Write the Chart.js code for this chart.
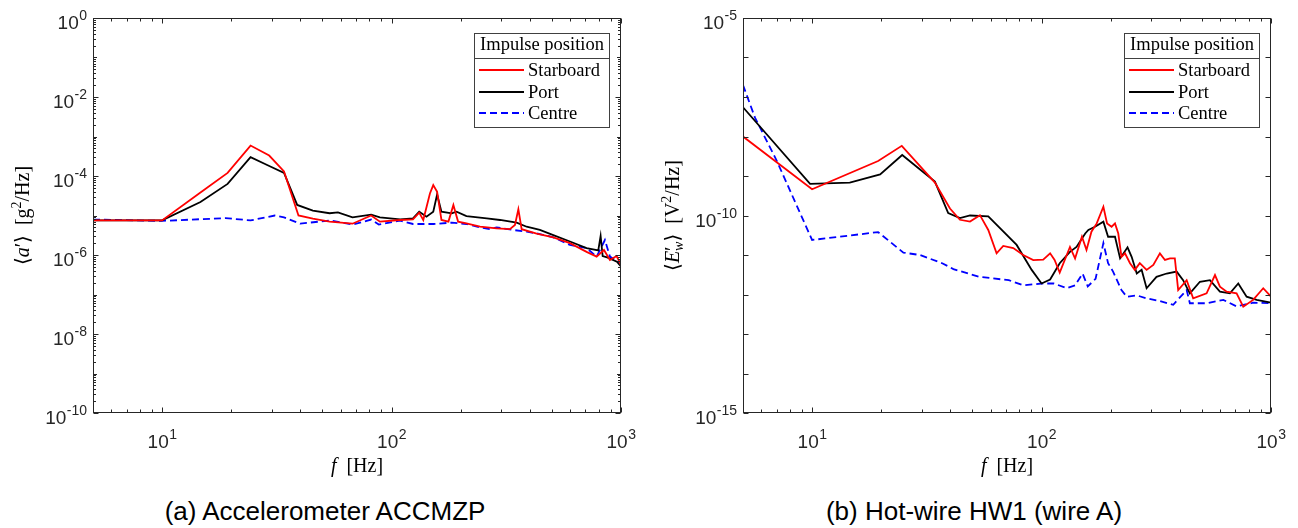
<!DOCTYPE html>
<html>
<head>
<meta charset="utf-8">
<script src="https://cdn.jsdelivr.net/npm/chart.js@4.4.0/dist/chart.umd.min.js"></script>
<style>
body { margin: 0; background: #fff; width: 1298px; height: 528px; position: relative; overflow: hidden; }
.panel { position: absolute; top: 0; }
.cap { position: absolute; top: 496px; font: 26px "Liberation Sans", Arial, sans-serif; line-height: 30px; text-align: center; color: #000; }
</style>
</head>
<body>
<div class="panel" style="left:0"><canvas id="accel" width="650" height="490"></canvas></div>
<div class="panel" style="left:650px"><canvas id="hotwire" width="648" height="490"></canvas></div>
<div class="cap" style="left:0;width:650px">(a) Accelerometer ACCMZP</div>
<div class="cap" style="left:650px;width:648px">(b) Hot-wire HW1 (wire A)</div>
<script>
// (a) accelerometer spectra
var fA_star = [5, 10, 14.7, 19.3, 24.3, 29.3, 34, 39.3, 45.4, 53.7, 67.6, 81.5, 89, 109, 124, 132, 137.5, 147, 152, 158, 165, 177, 186, 195, 212, 243, 287, 328, 345, 357, 369, 429, 507, 599, 708, 783, 843, 895, 957, 1000];
var vA_star = [7.5e-6, 7.5e-6, 3.8e-5, 1.2e-4, 5.9e-4, 3.3e-4, 1.3e-4, 1.0e-5, 8.3e-6, 7e-6, 6.2e-6, 1.0e-5, 7e-6, 7.7e-6, 8.0e-6, 1.18e-5, 7.7e-6, 3.6e-5, 5.9e-5, 4.0e-5, 7.7e-6, 7.0e-6, 1.85e-5, 7.0e-6, 6.3e-6, 5.2e-6, 4.7e-6, 4.5e-6, 5.75e-6, 1.43e-5, 4.5e-6, 3.5e-6, 2.8e-6, 2.0e-6, 1.2e-6, 9.1e-7, 1.34e-6, 7.5e-7, 9.4e-7, 5.6e-7];
var fA_port = [5, 10, 14.7, 19.3, 24.3, 28.7, 34, 38.8, 45.4, 53.7, 58.4, 67.6, 81.5, 89, 109, 124, 132, 142, 152, 158, 165, 183, 192, 212, 260, 297, 351, 388, 443, 507, 599, 708, 796, 815, 832, 870, 960, 1000];
var vA_port = [7.5e-6, 7.5e-6, 2.2e-5, 6.3e-5, 3.0e-4, 1.9e-4, 1.2e-4, 1.85e-5, 1.33e-5, 1.14e-5, 1.2e-5, 9e-6, 1.05e-5, 9e-6, 8.0e-6, 8.5e-6, 1.25e-5, 9.3e-6, 1.25e-5, 3.4e-5, 1.25e-5, 1.13e-5, 1.25e-5, 9.7e-6, 8.5e-6, 7.7e-6, 6.6e-6, 5.2e-6, 4.3e-6, 3.2e-6, 2.2e-6, 1.5e-6, 1.3e-6, 3.0e-6, 9.4e-7, 8.7e-7, 6.8e-7, 5.1e-7];
var fA_centre = [5, 10, 18.9, 24.3, 31, 34, 40, 53.7, 68, 81.5, 88, 109, 124, 137.5, 152, 183, 212, 243, 268, 287, 339, 388, 443, 507, 599, 708, 783, 851, 895, 1000];
var vA_centre = [7.9e-6, 7.3e-6, 8.6e-6, 7.5e-6, 1.0e-5, 9e-6, 6.2e-6, 7.5e-6, 5.9e-6, 7.9e-6, 5.9e-6, 7.4e-6, 6.1e-6, 6.1e-6, 6.1e-6, 6.6e-6, 6.1e-6, 5.0e-6, 4.5e-6, 5.0e-6, 4.3e-6, 3.9e-6, 3.4e-6, 2.8e-6, 1.8e-6, 1.5e-6, 9.1e-7, 2.4e-6, 9.1e-7, 6.1e-7];

// (b) hot-wire spectra
var fB_star = [5, 10, 19.4, 24.6, 34.3, 39.9, 44.1, 48.8, 53.9, 58.6, 63.7, 68.1, 75.3, 83.2, 92, 101.7, 109, 114, 120, 133, 140, 150, 157, 165, 174, 186, 193, 202, 209, 216, 223, 231, 243, 255, 268, 287, 307, 328, 345, 363, 381, 394, 429, 458, 524, 570, 599, 641, 708, 757, 836, 925, 1000];
var vB_star = [1.0e-8, 4.6e-10, 2.4e-9, 5.8e-9, 6.8e-10, 1.5e-10, 7.8e-11, 7e-11, 1.02e-10, 4.3e-11, 1.1e-11, 1.7e-11, 1.5e-11, 1.0e-11, 7.4e-12, 7.6e-12, 1.1e-11, 7.5e-12, 3.6e-12, 1.6e-11, 8.2e-12, 2.9e-11, 1.34e-11, 3.9e-11, 6.3e-11, 1.67e-10, 6.3e-11, 5.2e-11, 6.3e-11, 3.5e-11, 9e-12, 1.1e-11, 6.2e-12, 4.2e-12, 6.2e-12, 4.2e-12, 5.6e-12, 1.1e-11, 7.5e-12, 8.2e-12, 8.2e-12, 1.3e-12, 2.3e-12, 8e-13, 1.07e-12, 3.1e-12, 1.58e-12, 1.18e-12, 1.07e-12, 4.9e-13, 7.3e-13, 1.44e-12, 8.8e-13];
var fB_port = [5, 9.8, 14.6, 19.8, 24.7, 34.3, 39.2, 44.1, 48.8, 58.6, 77.9, 90.6, 100, 109, 120, 133, 142, 155, 160, 171, 186, 195, 209, 220, 237, 247, 260, 273, 287, 317, 351, 388, 414, 443, 490, 542, 599, 662, 720, 783, 866, 1000];
var vB_port = [5.5e-8, 6.3e-10, 6.8e-10, 1.1e-9, 3.4e-9, 7.2e-10, 1.15e-10, 8.6e-11, 1.0e-10, 9.5e-11, 1.8e-11, 4.2e-12, 1.9e-12, 2.4e-12, 6.2e-12, 1.2e-11, 1.6e-11, 3.5e-11, 4.3e-11, 5.2e-11, 7e-11, 2.9e-11, 2.9e-11, 8.2e-12, 1.56e-11, 9e-12, 3.4e-12, 4.2e-12, 1.44e-12, 2.8e-12, 3.4e-12, 3.8e-12, 2.3e-12, 1.07e-12, 2.1e-12, 2.3e-12, 1.18e-12, 1.07e-12, 1.9e-12, 8.8e-13, 7.3e-13, 6.2e-13];
var fB_centre = [5, 5.64, 7, 10, 19.4, 25, 29.5, 36.9, 41.3, 53.6, 72, 83.5, 100, 113, 129, 140, 151, 159, 172, 186, 195, 205, 223, 235, 260, 287, 328, 375, 429, 443, 524, 620, 708, 836, 1000];
var vB_centre = [2.0e-7, 3.0e-8, 2.5e-9, 2.4e-11, 3.8e-11, 1.15e-11, 1.0e-11, 6.2e-12, 4.4e-12, 2.8e-12, 2.3e-12, 1.7e-12, 1.9e-12, 1.9e-12, 1.45e-12, 1.7e-12, 3.4e-12, 1.6e-12, 2.5e-12, 2.0e-11, 6.2e-12, 3.8e-12, 1.3e-12, 8.8e-13, 9.5e-13, 8e-13, 6.8e-13, 5.5e-13, 1.3e-12, 6e-13, 6e-13, 7.3e-13, 5e-13, 6.2e-13, 6e-13];

var seriesNames = ['Starboard', 'Port', 'Centre'];
var xTickExp = [1, 2, 3];
var yTickExpA = [0, -2, -4, -6, -8, -10];
var yTickExpB = [-5, -10, -15];

var SANS = '"Liberation Sans", Arial, sans-serif';
var SERIF = '"Liberation Serif", "DejaVu Serif", serif';

function pts(f, v) {
    return f.map(function (x, i) { return { x: x, y: v[i] }; });
}

function expLabel(ctx, exp, x, y, align) {
    var sup = String(exp);
    ctx.font = '19px ' + SANS;
    var wb = ctx.measureText('10').width;
    ctx.font = '14px ' + SANS;
    var ws = ctx.measureText(sup).width;
    var x0 = align === 'center' ? x - (wb + ws) / 2 : x - wb - ws;
    ctx.textAlign = 'left';
    ctx.textBaseline = 'alphabetic';
    ctx.font = '19px ' + SANS;
    ctx.fillText('10', x0, y);
    ctx.font = '14px ' + SANS;
    ctx.fillText(sup, x0 + wb + 0.5, y - 9);
}

// draws a row of text parts (italic / super / subscript), centred on x
function drawParts(ctx, parts, x, y, size) {
    var total = 0;
    parts.forEach(function (p) {
        ctx.font = (p.it ? 'italic ' : '') + (size * (p.s || 1)) + 'px ' + SERIF;
        p.w = ctx.measureText(p.t).width;
        if (!p.keep) total += p.w;
    });
    var cx = x - total / 2;
    ctx.textAlign = 'left';
    ctx.textBaseline = 'alphabetic';
    parts.forEach(function (p) {
        ctx.font = (p.it ? 'italic ' : '') + (size * (p.s || 1)) + 'px ' + SERIF;
        ctx.fillText(p.t, cx, y + (p.dy || 0));
        if (!p.keep) cx += p.w;
    });
}

function makeAxes(cfg) {
    return {
        id: 'matlabAxes',
        afterDraw: function (chart) {
            var ctx = chart.ctx, a = chart.chartArea;
            var xs = chart.scales.x, ys = chart.scales.y;
            var L = Math.round(a.left) + 0.5, R = Math.round(a.right) - 0.5;
            var T = Math.round(a.top) + 0.5, B = Math.round(a.bottom) - 0.5;
            ctx.save();
            ctx.strokeStyle = '#262626';
            ctx.lineWidth = 1;
            ctx.setLineDash([]);
            ctx.beginPath();
            for (var e = 0; e <= 3; e++) {
                for (var k = 1; k <= 9; k++) {
                    var v = k * Math.pow(10, e);
                    if (v < xs.min || v > xs.max) continue;
                    var p = Math.round(xs.getPixelForValue(v)) + 0.5;
                    var len = k === 1 ? 5 : 3;
                    ctx.moveTo(p, B); ctx.lineTo(p, B - len);
                    ctx.moveTo(p, T); ctx.lineTo(p, T + len);
                }
            }
            for (var d = cfg.yLo; d <= cfg.yHi; d++) {
                var py = Math.round(ys.getPixelForValue(Math.pow(10, d))) + 0.5;
                var ln = cfg.yLabels.indexOf(d) >= 0 ? 5 : cfg.decadeLen;
                ctx.moveTo(L, py); ctx.lineTo(L + ln, py);
                ctx.moveTo(R, py); ctx.lineTo(R - ln, py);
                if (cfg.yMinor && d < cfg.yHi) {
                    for (var m = 2; m <= 9; m++) {
                        var pm = Math.round(ys.getPixelForValue(m * Math.pow(10, d))) + 0.5;
                        ctx.moveTo(L, pm); ctx.lineTo(L + 2.5, pm);
                        ctx.moveTo(R, pm); ctx.lineTo(R - 2.5, pm);
                    }
                }
            }
            ctx.stroke();
            ctx.strokeRect(L, T, R - L, B - T);

            // tick labels
            ctx.fillStyle = '#262626';
            xTickExp.forEach(function (ex) {
                expLabel(ctx, ex, xs.getPixelForValue(Math.pow(10, ex)), B + 35, 'center');
            });
            cfg.yLabels.forEach(function (ex) {
                expLabel(ctx, ex, L - 7, ys.getPixelForValue(Math.pow(10, ex)) + 11, 'right');
            });

            // axis titles
            ctx.fillStyle = '#000';
            drawParts(ctx, [{ t: 'f', it: true }, { t: '\u2002[Hz]' }], (L + R) / 2, 472, 20);
            ctx.save();
            ctx.translate(29, (T + B) / 2);
            ctx.rotate(-Math.PI / 2);
            drawParts(ctx, cfg.yTitle, 0, 0, 20);
            ctx.restore();

            // legend box (MATLAB style, with title row)
            var bx = 474, by = 33, bw = 135, bh = 94;
            ctx.fillStyle = '#fff';
            ctx.fillRect(bx, by, bw, bh);
            ctx.strokeStyle = '#404040';
            ctx.lineWidth = 1;
            ctx.strokeRect(bx + 0.5, by + 0.5, bw, bh);
            ctx.beginPath();
            ctx.moveTo(bx, 58.5); ctx.lineTo(bx + bw, 58.5);
            ctx.stroke();
            ctx.fillStyle = '#000';
            ctx.font = '18.5px ' + SERIF;
            ctx.textAlign = 'center';
            ctx.textBaseline = 'alphabetic';
            ctx.fillText('Impulse position', bx + bw / 2 + 0.5, 50);
            var rows = [70, 92, 113];
            chart.data.datasets.forEach(function (ds, i) {
                ctx.strokeStyle = ds.borderColor;
                ctx.lineWidth = ds.borderWidth;
                ctx.setLineDash(ds.borderDash || []);
                ctx.beginPath();
                ctx.moveTo(479, rows[i]); ctx.lineTo(524, rows[i]);
                ctx.stroke();
                ctx.setLineDash([]);
                ctx.textAlign = 'left';
                ctx.fillText(ds.label, 528, rows[i] + 5.5);
            });
            ctx.restore();
        }
    };
}

function buildChart(id, f, v, padRight, yMin, yMax, axesCfg) {
    var colors = ['#ff0000', '#000000', '#0000ff'];
    var dashes = [[], [], [7, 4]];
    var datasets = seriesNames.map(function (name, i) {
        return {
            label: name,
            data: pts(f[i], v[i]),
            borderColor: colors[i],
            borderWidth: 1.8,
            borderDash: dashes[i],
            pointRadius: 0,
            fill: false,
            tension: 0
        };
    });
    return new Chart(document.getElementById(id).getContext('2d'), {
        type: 'line',
        data: { datasets: datasets },
        options: {
            responsive: false,
            animation: false,
            devicePixelRatio: 1,
            layout: { padding: { left: 93, right: padRight, top: 18, bottom: 77 } },
            scales: {
                x: { type: 'logarithmic', min: 5, max: 1000, display: false },
                y: { type: 'logarithmic', min: yMin, max: yMax, display: false }
            },
            plugins: { legend: { display: false }, tooltip: { enabled: false } }
        },
        plugins: [makeAxes(axesCfg)]
    });
}

buildChart('accel', [fA_star, fA_port, fA_centre], [vA_star, vA_port, vA_centre], 29, 1e-10, 1, {
    yLo: -10, yHi: 0, yLabels: yTickExpA, yMinor: true, decadeLen: 3.5,
    yTitle: [{ t: '\u27E8' }, { t: 'a', it: true }, { t: '\u2032' }, { t: '\u27E9' }, { t: '\u2002[g' },
             { t: '2', s: 0.7, dy: -8 }, { t: '/Hz]' }]
});

buildChart('hotwire', [fB_star, fB_port, fB_centre], [vB_star, vB_port, vB_centre], 27, 1e-15, 1e-5, {
    yLo: -15, yHi: -5, yLabels: yTickExpB, yMinor: false, decadeLen: 5,
    yTitle: [{ t: '\u27E8' }, { t: 'E', it: true }, { t: '\u2032', keep: true }, { t: 'w', it: true, s: 0.7, dy: 4 },
             { t: '\u27E9' }, { t: '\u2002[V' }, { t: '2', s: 0.7, dy: -8 }, { t: '/Hz]' }]
});
</script>
</body>
</html>
